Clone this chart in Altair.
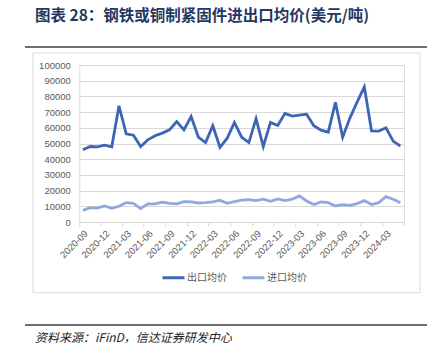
import altair as alt
import pandas as pd

months = [d.strftime("%Y-%m") for d in pd.date_range("2020-09-01", "2024-05-01", freq="MS")]

export_price = [46000, 48100, 47900, 48900, 47900, 74000, 56200, 55300, 48100, 52300,
                54900, 56600, 58700, 64000, 58700, 67200, 54000, 50600, 61300, 47500,
                53400, 63400, 54000, 50600, 65800, 48100, 63400, 61500, 69200, 67500,
                68100, 68700, 61300, 58500, 57200, 76200, 54000, 66200, 76400, 86000,
                58100, 57900, 60000, 51500, 48300]
import_price = [7400, 9100, 8900, 10200, 8700, 10000, 12300, 11900, 8500, 11500,
                11500, 12600, 11900, 11500, 13000, 12800, 12100, 12300, 12800, 13800,
                11900, 13000, 14000, 14300, 13600, 14500, 13200, 14700, 13600, 14500,
                16600, 13400, 11100, 12800, 12300, 10200, 11100, 10600, 11700, 13600,
                11100, 12300, 16200, 14500, 12300]
series_names = ["出口均价", "进口均价"]
y_ticks = list(range(0, 100001, 10000))

title_text = "图表 28：钢铁或铜制紧固件进出口均价(美元/吨)"
source_text = "资料来源：iFinD，信达证券研发中心"

df = pd.concat([
    pd.DataFrame({"month": months, "value": export_price, "series": series_names[0]}),
    pd.DataFrame({"month": months, "value": import_price, "series": series_names[1]}),
])

# layout (pixels)
PL, PT = 79.3, 65
W, H = 324.7, 157
CJK = "Noto Sans CJK SC"
LAT = "Liberation Sans"

lines = alt.Chart(df).mark_line(strokeWidth=2.8).encode(
    x=alt.X("month:O", sort=months, bandPosition=0.5,
            scale=alt.Scale(type="band", paddingInner=0, paddingOuter=0),
            axis=alt.Axis(values=months[::3], bandPosition=0, labelAngle=-45, title=None,
                          domainColor="#d9d9d9", tickColor="#d9d9d9", tickSize=4,
                          labelColor="#595959", labelFontSize=9.5, labelFont=LAT,
                          grid=False, labelPadding=2)),
    y=alt.Y("value:Q", scale=alt.Scale(domain=[0, 100000]),
            axis=alt.Axis(values=y_ticks, title=None, domain=False, ticks=False, format="d",
                          labelPadding=9, labelColor="#595959", labelFontSize=9.5,
                          labelFont=LAT, gridColor="#d9d9d9")),
    color=alt.Color("series:N",
                    scale=alt.Scale(domain=series_names, range=["#3E64B4", "#8EA9DB"]),
                    legend=alt.Legend(title=None, orient="none", direction="horizontal",
                                      legendX=161 - PL, legendY=277 - PT - 12,
                                      symbolType="stroke", symbolSize=484,
                                      symbolStrokeWidth=3, labelFont=CJK,
                                      labelFontSize=10, labelColor="#595959",
                                      labelOffset=1, columnPadding=9)),
)

one = pd.DataFrame({"a": [0]})

frame = alt.Chart(one).mark_rect(fill=None, stroke="#d9d9d9", strokeWidth=1).encode(
    x=alt.value(33 - PL), x2=alt.value(420 - PL),
    y=alt.value(53 - PT), y2=alt.value(292.7 - PT))

top_rule = alt.Chart(one).mark_rule(color="#404040", strokeWidth=1.5).encode(
    x=alt.value(25 - PL), x2=alt.value(427 - PL), y=alt.value(47 - PT))
bottom_rule = alt.Chart(one).mark_rule(color="#404040", strokeWidth=1.5).encode(
    x=alt.value(25 - PL), x2=alt.value(427 - PL), y=alt.value(325 - PT))

end_tick = alt.Chart(one).mark_rule(color="#d9d9d9").encode(
    x=alt.value(W), y=alt.value(H), y2=alt.value(H + 4))

title = alt.Chart(one).mark_text(text=title_text, align="left", baseline="middle",
                                  font=CJK, fontSize=15.5, fontWeight="bold",
                                  color="#1F3864").encode(
    x=alt.value(35 - PL), y=alt.value(16 - PT))

source = alt.Chart(one).mark_text(text=source_text, align="left", baseline="middle",
                                   font=CJK, fontSize=12, fontStyle="italic",
                                   color="#222222").encode(
    x=alt.value(35 - PL), y=alt.value(338 - PT))

chart = alt.layer(frame, top_rule, bottom_rule, lines, end_tick, title, source).properties(
    width=W, height=H,
    autosize=alt.AutoSizeParams(type="none"),
    padding={"left": PL, "top": PT, "right": 444 - PL - W, "bottom": 354 - PT - H},
).configure_view(stroke=None).configure(background="white")

chart.save("out.html", embed_options={"renderer": "svg", "actions": False})
